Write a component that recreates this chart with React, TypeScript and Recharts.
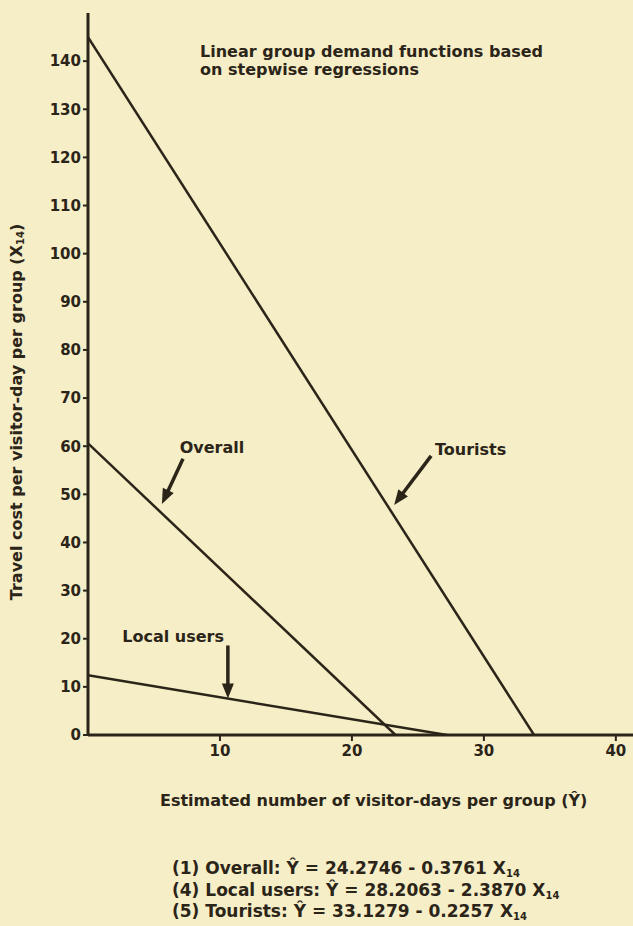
import React from 'react';
import { LineChart, Line, XAxis, YAxis, ReferenceLine, ReferenceDot } from 'recharts';

const FONT = '"DejaVu Sans", "Liberation Sans", Arial, sans-serif';
const INK = '#2b2419';
const BG = '#f6eec6';

// Lines: [visitor-days (x), travel cost (y)]
const touristsLine = [
  { x: 0, y: 145 },
  { x: 33.8, y: 0 },
];
const overallLine = [
  { x: 0, y: 60.6 },
  { x: 23.3, y: 0 },
];
const localLine = [
  { x: 0, y: 12.4 },
  { x: 27.2, y: 0 },
];

const yTicks = [0, 10, 20, 30, 40, 50, 60, 70, 80, 90, 100, 110, 120, 130, 140];
const xTicks = [10, 20, 30, 40];

const titleLines = ['Linear group demand functions based', 'on stepwise regressions'];
const equations = [
  { n: '(1)', name: 'Overall:', a: '24.2746', b: '0.3761' },
  { n: '(4)', name: 'Local users:', a: '28.2063', b: '2.3870' },
  { n: '(5)', name: 'Tourists:', a: '33.1279', b: '0.2257' },
];

// annotations (data coordinates)
const annotations = [
  { label: 'Overall', tx: 6.95, ty: 58.6, from: { x: 7.2, y: 57.4 }, to: { x: 5.6, y: 48.0 } },
  { label: 'Tourists', tx: 26.3, ty: 58.2, from: { x: 26.0, y: 58.0 }, to: { x: 23.2, y: 47.8 } },
  { label: 'Local users', tx: 2.6, ty: 19.3, from: { x: 10.6, y: 18.6 }, to: { x: 10.6, y: 7.6 } },
];

const ArrowShape = (props: any) => {
  const { x1, y1, x2, y2 } = props;
  const dx = x2 - x1;
  const dy = y2 - y1;
  const len = Math.sqrt(dx * dx + dy * dy) || 1;
  const ux = dx / len;
  const uy = dy / len;
  const headLen = 15;
  const headW = 6;
  const bx = x2 - ux * headLen;
  const by = y2 - uy * headLen;
  const px = -uy;
  const py = ux;
  return (
    <g>
      <line x1={x1} y1={y1} x2={bx + ux * 2} y2={by + uy * 2} stroke={INK} strokeWidth={3.5} />
      <polygon
        points={`${x2},${y2} ${bx + px * headW},${by + py * headW} ${bx - px * headW},${by - py * headW}`}
        fill={INK}
      />
    </g>
  );
};

const makeLabel = (text: string) => (props: any) => (
  <text x={props.cx} y={props.cy} fill={INK} fontFamily={FONT} fontWeight="bold" fontSize={16}>
    {text}
  </text>
);

const tStyle = { fill: INK, fontFamily: FONT, fontWeight: 'bold' as const };

export default function App() {
  return (
    <div
      style={{
        position: 'absolute',
        left: 0,
        top: 0,
        width: 633,
        height: 926,
        background: BG,
        overflow: 'hidden',
      }}
    >
      <LineChart width={633} height={926} margin={{ top: 13, right: 0, left: 58, bottom: 161 }}>
        <XAxis
          type="number"
          dataKey="x"
          domain={[0, 41.3]}
          allowDataOverflow
          ticks={xTicks}
          height={30}
          axisLine={{ stroke: INK, strokeWidth: 3 }}
          tickLine={{ stroke: INK, strokeWidth: 2 }}
          tickSize={6}
          tickMargin={4}
          tick={{ ...tStyle, fontSize: 15 }}
        />
        <YAxis
          type="number"
          dataKey="y"
          domain={[0, 150]}
          allowDataOverflow
          ticks={yTicks}
          width={30}
          axisLine={{ stroke: INK, strokeWidth: 3 }}
          tickLine={{ stroke: INK, strokeWidth: 2 }}
          tickSize={5}
          tickMargin={2}
          tick={{ ...tStyle, fontSize: 15 }}
        />
        <Line data={touristsLine} dataKey="y" type="linear" stroke={INK} strokeWidth={2.5} dot={false} isAnimationActive={false} />
        <Line data={overallLine} dataKey="y" type="linear" stroke={INK} strokeWidth={2.5} dot={false} isAnimationActive={false} />
        <Line data={localLine} dataKey="y" type="linear" stroke={INK} strokeWidth={2.5} dot={false} isAnimationActive={false} />
        {annotations.map((a) => (
          <ReferenceLine key={'arr-' + a.label} segment={[a.from, a.to]} stroke={INK} shape={ArrowShape} />
        ))}
        {annotations.map((a) => (
          <ReferenceDot key={'lbl-' + a.label} x={a.tx} y={a.ty} r={0} shape={makeLabel(a.label)} />
        ))}
      </LineChart>

      <svg
        width={633}
        height={926}
        style={{ position: 'absolute', left: 0, top: 0, pointerEvents: 'none' }}
      >
        {titleLines.map((t, i) => (
          <text key={t} x={200} y={57 + i * 18} fontSize={16} {...tStyle}>
            {t}
          </text>
        ))}
        <text
          x={17}
          y={412}
          fontSize={16}
          textAnchor="middle"
          dominantBaseline="middle"
          transform="rotate(-90 17 412)"
          {...tStyle}
        >
          Travel cost per visitor-day per group (X
          <tspan fontSize={10} dy={4}>14</tspan>
          <tspan dy={-4}>)</tspan>
        </text>
        <text x={160} y={806} fontSize={16} {...tStyle}>
          Estimated number of visitor-days per group (Ŷ)
        </text>
        {equations.map((e, i) => (
          <text key={e.n} x={172} y={874 + i * 21.5} fontSize={17} {...tStyle}>
            {e.n}  {e.name} Ŷ = {e.a} - {e.b} X
            <tspan fontSize={10} dy={3}>14</tspan>
          </text>
        ))}
      </svg>
    </div>
  );
}
